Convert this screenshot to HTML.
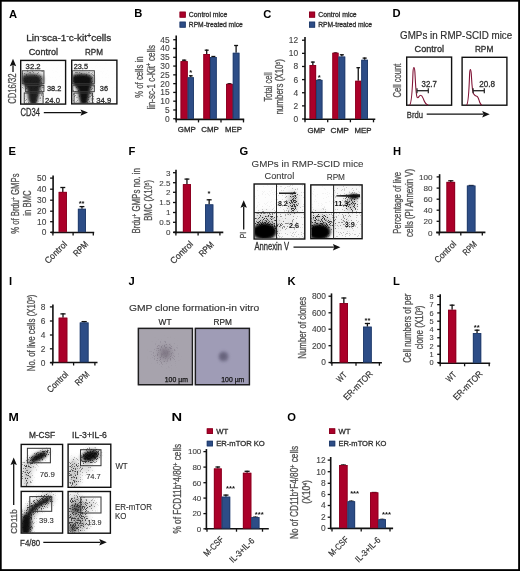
<!DOCTYPE html>
<html><head><meta charset="utf-8"><title>Figure</title>
<style>
html,body{margin:0;padding:0;background:#fff;}
svg{display:block;will-change:transform;}
text{font-family:"Liberation Sans", sans-serif;}
</style></head>
<body>
<svg xmlns="http://www.w3.org/2000/svg" width="520" height="571" viewBox="0 0 520 571">
<defs>
<filter id="b06" x="-50%" y="-50%" width="200%" height="200%"><feGaussianBlur stdDeviation="0.6"/></filter>
<filter id="b08" x="-50%" y="-50%" width="200%" height="200%"><feGaussianBlur stdDeviation="0.8"/></filter>
<filter id="b12" x="-50%" y="-50%" width="200%" height="200%"><feGaussianBlur stdDeviation="1.2"/></filter>
<filter id="b18" x="-50%" y="-50%" width="200%" height="200%"><feGaussianBlur stdDeviation="1.8"/></filter>
<filter id="b25" x="-50%" y="-50%" width="200%" height="200%"><feGaussianBlur stdDeviation="2.5"/></filter>
<filter id="b35" x="-50%" y="-50%" width="200%" height="200%"><feGaussianBlur stdDeviation="3.5"/></filter>
<filter id="b50" x="-50%" y="-50%" width="200%" height="200%"><feGaussianBlur stdDeviation="5"/></filter>
<filter id="speck" x="0" y="0" width="100%" height="100%" color-interpolation-filters="sRGB">
  <feTurbulence type="fractalNoise" baseFrequency="1.1" numOctaves="2" seed="3" result="N"/>
  <feComponentTransfer in="N" result="N2"><feFuncA type="linear" slope="3" intercept="-1"/></feComponentTransfer>
  <feComposite in="SourceAlpha" in2="N2" operator="arithmetic" k1="0" k2="3" k3="-3" k4="0" result="M"/>
  <feFlood flood-color="#333" result="F"/>
  <feComposite in="F" in2="M" operator="in" result="D"/>
  <feGaussianBlur in="D" stdDeviation="0.6" result="DB"/>
  <feComponentTransfer in="SourceAlpha" result="S"><feFuncA type="linear" slope="0.45"/></feComponentTransfer>
  <feFlood flood-color="#222" result="F2"/>
  <feComposite in="F2" in2="S" operator="in" result="SM"/>
  <feMerge><feMergeNode in="SM"/><feMergeNode in="DB"/></feMerge>
</filter>
<filter id="speckL" x="0" y="0" width="100%" height="100%" color-interpolation-filters="sRGB">
  <feTurbulence type="fractalNoise" baseFrequency="0.85" numOctaves="2" seed="5" result="N"/>
  <feComponentTransfer in="N" result="N2"><feFuncA type="linear" slope="3" intercept="-1"/></feComponentTransfer>
  <feComposite in="SourceAlpha" in2="N2" operator="arithmetic" k1="0" k2="3" k3="-3" k4="0" result="M"/>
  <feFlood flood-color="#555" result="F"/>
  <feComposite in="F" in2="M" operator="in" result="D"/>
  <feGaussianBlur in="D" stdDeviation="0.5"/>
</filter>
<filter id="speckA" x="0" y="0" width="100%" height="100%" color-interpolation-filters="sRGB">
  <feTurbulence type="fractalNoise" baseFrequency="1.2" numOctaves="2" seed="11" result="N"/>
  <feComponentTransfer in="N" result="N2"><feFuncA type="linear" slope="3" intercept="-1"/></feComponentTransfer>
  <feComposite in="SourceAlpha" in2="N2" operator="arithmetic" k1="0" k2="3" k3="-3" k4="0" result="M"/>
  <feFlood flood-color="#444" result="F"/>
  <feComposite in="F" in2="M" operator="in" result="D"/>
  <feGaussianBlur in="D" stdDeviation="0.7" result="DB"/>
  <feComponentTransfer in="SourceAlpha" result="S"><feFuncA type="linear" slope="0.6"/></feComponentTransfer>
  <feFlood flood-color="#222" result="F2"/>
  <feComposite in="F2" in2="S" operator="in" result="SM"/>
  <feMerge><feMergeNode in="SM"/><feMergeNode in="DB"/></feMerge>
</filter>
<filter id="speckJ" x="0" y="0" width="100%" height="100%" color-interpolation-filters="sRGB">
  <feTurbulence type="fractalNoise" baseFrequency="0.7" numOctaves="2" seed="9" result="N"/>
  <feComponentTransfer in="N" result="N2"><feFuncA type="linear" slope="3" intercept="-1"/></feComponentTransfer>
  <feComposite in="SourceAlpha" in2="N2" operator="arithmetic" k1="0" k2="3" k3="-3" k4="0" result="M"/>
  <feFlood flood-color="#8a8490" result="F"/>
  <feComposite in="F" in2="M" operator="in" result="D"/>
  <feGaussianBlur in="D" stdDeviation="0.6"/>
</filter>
<clipPath id="cA1"><rect x="21.4" y="61.1" width="43.5" height="42.3"/></clipPath>
<clipPath id="cA2"><rect x="72.4" y="60.9" width="43.8" height="42.3"/></clipPath>
<clipPath id="cG1"><rect x="254.8" y="184.7" width="49.3" height="53.6"/></clipPath>
<clipPath id="cG2"><rect x="311.5" y="185.6" width="49.9" height="52.4"/></clipPath>
<clipPath id="cM1"><rect x="21.9" y="445.1" width="40" height="40.8"/></clipPath>
<clipPath id="cM2"><rect x="21.9" y="492.1" width="40" height="40.3"/></clipPath>
<clipPath id="cM3"><rect x="68.8" y="444.9" width="41.3" height="41.7"/></clipPath>
<clipPath id="cM4"><rect x="68.8" y="492.2" width="40.9" height="40.3"/></clipPath>
<clipPath id="cJ1"><rect x="138.5" y="328.5" width="53.8" height="56.2"/></clipPath>
<clipPath id="cJ2"><rect x="195.5" y="328.5" width="54" height="56.2"/></clipPath>
</defs>
<rect x="0" y="0" width="520" height="571" fill="#fff"/>
<rect x="0.75" y="0.75" width="518.35" height="569.35" fill="none" stroke="#000" stroke-width="1.9"/>
<text x="9" y="17.5" font-size="11.2" font-weight="bold" fill="#000">A</text>
<text x="134.3" y="17.1" font-size="11.2" font-weight="bold" fill="#000">B</text>
<text x="263.3" y="17.5" font-size="11.2" font-weight="bold" fill="#000">C</text>
<text x="392.6" y="17.2" font-size="11.2" font-weight="bold" fill="#000">D</text>
<text x="8.6" y="155.4" font-size="11.2" font-weight="bold" fill="#000">E</text>
<text x="128.5" y="155.1" font-size="11.2" font-weight="bold" fill="#000">F</text>
<text x="239.6" y="155.2" font-size="11.2" font-weight="bold" fill="#000">G</text>
<text x="393.1" y="155.4" font-size="11.2" font-weight="bold" fill="#000">H</text>
<text x="9" y="285.1" font-size="11.2" font-weight="bold" fill="#000">I</text>
<text x="128.4" y="285.3" font-size="11.2" font-weight="bold" fill="#000">J</text>
<text x="287.4" y="285.3" font-size="11.2" font-weight="bold" fill="#000">K</text>
<text x="393" y="285.2" font-size="11.2" font-weight="bold" fill="#000">L</text>
<text x="8.5" y="420.9" font-size="11.2" font-weight="bold" textLength="10.3" lengthAdjust="spacingAndGlyphs" fill="#000">M</text>
<text x="171.4" y="420.7" font-size="11.2" font-weight="bold" textLength="10.6" lengthAdjust="spacingAndGlyphs" fill="#000">N</text>
<text x="287.2" y="421.1" font-size="11.2" font-weight="bold" fill="#000">O</text>
<text x="26.3" y="41.2" font-size="9.6" fill="#2e2e2e" stroke="#2e2e2e" stroke-width="0.3" textLength="85" lengthAdjust="spacingAndGlyphs">Lin<tspan font-size="6.5" dy="-3.6">-</tspan><tspan dy="3.6">sca-1</tspan><tspan font-size="6.5" dy="-3.6">-</tspan><tspan dy="3.6">c-kit</tspan><tspan font-size="7" dy="-3.4">+</tspan><tspan dy="3.4">cells</tspan></text>
<text x="28.8" y="55" font-size="8.9" textLength="29.3" lengthAdjust="spacingAndGlyphs" fill="#2e2e2e" stroke="#2e2e2e" stroke-width="0.3">Control</text>
<text x="85" y="55" font-size="8.9" textLength="18" lengthAdjust="spacingAndGlyphs" fill="#2e2e2e" stroke="#2e2e2e" stroke-width="0.3">RPM</text>
<rect x="20.7" y="60.4" width="44.9" height="43.7" fill="none" stroke="#111" stroke-width="1.4"/>
<rect x="71.7" y="60.2" width="45.2" height="43.7" fill="none" stroke="#111" stroke-width="1.4"/>
<g clip-path="url(#cA1)"><g filter="url(#speckA)">
<rect x="21.0" y="60.5" width="45.0" height="44.0" fill="#000" opacity="0.004"/>
<rect x="22" y="70.5" width="22" height="33.5" fill="#000" opacity="0.16"/>
</g></g>
<g clip-path="url(#cA1)"><g>
<rect x="21.0" y="60.5" width="45.0" height="44.0" fill="#000" opacity="0.004"/>
<path d="M22.5 74 C27 72 38 72 43 76 C45 79 43 86 40.5 92 C38.5 98 38 103 33 104.5 C29 104.5 27.5 99 27 94 C26.5 88 23 84 22 79 Z" fill="#000" opacity="0.5" filter="url(#b18)"/>
</g></g>
<g clip-path="url(#cA1)">
<path d="M22.5 77 C27 75 35 74.5 39.5 76.5 C41.5 79 41 83 39.5 88 C38.5 93 37.5 97 37 101 C36.5 104 35 105 33 105 C31 105 30 103 29.5 100 C29 95 28.5 91 27.5 88.5 C26 86 23.5 84.5 22.5 82 Z" fill="#151515" opacity="0.9" filter="url(#b08)"/>
</g>
<g clip-path="url(#cA2)"><g filter="url(#speckA)">
<rect x="72.0" y="60.5" width="45.0" height="44.0" fill="#000" opacity="0.004"/>
<rect x="72.5" y="70.5" width="22" height="33.5" fill="#000" opacity="0.17"/>
</g></g>
<g clip-path="url(#cA2)"><g>
<rect x="72.0" y="60.5" width="45.0" height="44.0" fill="#000" opacity="0.004"/>
<path d="M72.5 74 C78 72 89 72 93 76 C95 80 93 86 91 92 C89.5 98 89 103.5 84 104.5 C79.5 104.5 78.5 99 78 94 C77.5 88 73 84 72.5 79 Z" fill="#000" opacity="0.55" filter="url(#b18)"/>
</g></g>
<g clip-path="url(#cA2)">
<path d="M72.5 76.5 C78 74 87 74 91 77 C92.5 80 91 84 89.5 89 C88.5 94 87.5 99 87 102.5 C86.5 104.5 85 105 83.5 105 C82 105 81 104 80.5 101 C80 97 79.5 93 78.5 89.5 C77 86.5 74 85 72.5 82 Z" fill="#0d0d0d" opacity="0.95" filter="url(#b08)"/>
</g>
<rect x="22.25" y="70.75" width="21.70" height="13.00" fill="none" stroke="#3a3a3a" stroke-width="0.9"/>
<rect x="25.65" y="85.45" width="18.30" height="6.20" fill="none" stroke="#3a3a3a" stroke-width="0.9"/>
<rect x="24.25" y="93.05" width="18.80" height="10.70" fill="none" stroke="#3a3a3a" stroke-width="0.9"/>
<rect x="72.35" y="70.75" width="22.00" height="13.00" fill="none" stroke="#3a3a3a" stroke-width="0.9"/>
<rect x="72.85" y="85.15" width="21.50" height="6.50" fill="none" stroke="#3a3a3a" stroke-width="0.9"/>
<rect x="74.05" y="93.05" width="18.50" height="10.10" fill="none" stroke="#3a3a3a" stroke-width="0.9"/>
<text x="25.6" y="69.4" font-size="7.4" textLength="15" lengthAdjust="spacingAndGlyphs" fill="#2e2e2e" stroke="#2e2e2e" stroke-width="0.3">32.2</text>
<text x="46.9" y="90.6" font-size="7.4" textLength="14.4" lengthAdjust="spacingAndGlyphs" fill="#2e2e2e" stroke="#2e2e2e" stroke-width="0.3">38.2</text>
<text x="45" y="102.7" font-size="7.4" textLength="15" lengthAdjust="spacingAndGlyphs" fill="#2e2e2e" stroke="#2e2e2e" stroke-width="0.3">24.0</text>
<text x="73.7" y="69.4" font-size="7.4" textLength="14.3" lengthAdjust="spacingAndGlyphs" fill="#2e2e2e" stroke="#2e2e2e" stroke-width="0.3">23.5</text>
<text x="99.8" y="91" font-size="7.4" textLength="8.2" lengthAdjust="spacingAndGlyphs" fill="#2e2e2e" stroke="#2e2e2e" stroke-width="0.3">36</text>
<text x="96.3" y="102.5" font-size="7.4" textLength="15" lengthAdjust="spacingAndGlyphs" fill="#2e2e2e" stroke="#2e2e2e" stroke-width="0.3">34.9</text>
<text transform="translate(16.1 88.6) rotate(-90)" font-size="11.02" text-anchor="middle" textLength="30.4" lengthAdjust="spacingAndGlyphs" fill="#505050" stroke="#505050" stroke-width="0.3">CD16/32</text>
<line x1="13" y1="72" x2="13" y2="65.3" stroke="#111" stroke-width="1.3"/>
<path d="M13 58.8 L9.8 66.3 L13 65 L16.2 66.3 Z" fill="#111"/>
<text x="20.6" y="116.4" font-size="10.2" textLength="19.4" lengthAdjust="spacingAndGlyphs" fill="#2e2e2e" stroke="#2e2e2e" stroke-width="0.3">CD34</text>
<line x1="43.8" y1="112.6" x2="81.5" y2="112.6" stroke="#111" stroke-width="1.3"/>
<path d="M88 112.6 L80.5 109.4 L81.8 112.6 L80.5 115.8 Z" fill="#111"/>
<rect x="179.6" y="11.7" width="6.1" height="5.9" fill="#ab0029"/>
<rect x="180" y="12.1" width="5.3" height="5.1" fill="none" stroke="#86001f" stroke-width="0.8"/>
<rect x="179.6" y="21.7" width="6.1" height="5.9" fill="#2d4d87"/>
<rect x="180" y="22.1" width="5.3" height="5.1" fill="none" stroke="#213b68" stroke-width="0.8"/>
<text x="188.8" y="17.1" font-size="7" textLength="38.5" lengthAdjust="spacingAndGlyphs" fill="#2e2e2e" stroke="#2e2e2e" stroke-width="0.3">Control mice</text>
<text x="188.8" y="27.1" font-size="7" textLength="53.9" lengthAdjust="spacingAndGlyphs" fill="#2e2e2e" stroke="#2e2e2e" stroke-width="0.3">RPM-treated mice</text>
<line x1="176.2" y1="35.6" x2="176.2" y2="120.2" stroke="#111" stroke-width="1.6"/>
<line x1="173.2" y1="118.75" x2="176.2" y2="118.75" stroke="#111" stroke-width="1.3"/>
<text x="169.6" y="121.69" font-size="8.4" text-anchor="end" fill="#444" stroke="#444" stroke-width="0.12">0</text>
<line x1="173.2" y1="109.97" x2="176.2" y2="109.97" stroke="#111" stroke-width="1.3"/>
<text x="169.6" y="112.91" font-size="8.4" text-anchor="end" fill="#444" stroke="#444" stroke-width="0.12">5</text>
<line x1="173.2" y1="101.19" x2="176.2" y2="101.19" stroke="#111" stroke-width="1.3"/>
<text x="169.6" y="104.13" font-size="8.4" text-anchor="end" fill="#444" stroke="#444" stroke-width="0.12">10</text>
<line x1="173.2" y1="92.41" x2="176.2" y2="92.41" stroke="#111" stroke-width="1.3"/>
<text x="169.6" y="95.35" font-size="8.4" text-anchor="end" fill="#444" stroke="#444" stroke-width="0.12">15</text>
<line x1="173.2" y1="83.63" x2="176.2" y2="83.63" stroke="#111" stroke-width="1.3"/>
<text x="169.6" y="86.57" font-size="8.4" text-anchor="end" fill="#444" stroke="#444" stroke-width="0.12">20</text>
<line x1="173.2" y1="74.85" x2="176.2" y2="74.85" stroke="#111" stroke-width="1.3"/>
<text x="169.6" y="77.79" font-size="8.4" text-anchor="end" fill="#444" stroke="#444" stroke-width="0.12">25</text>
<line x1="173.2" y1="66.07" x2="176.2" y2="66.07" stroke="#111" stroke-width="1.3"/>
<text x="169.6" y="69.01" font-size="8.4" text-anchor="end" fill="#444" stroke="#444" stroke-width="0.12">30</text>
<line x1="173.2" y1="57.29" x2="176.2" y2="57.29" stroke="#111" stroke-width="1.3"/>
<text x="169.6" y="60.23" font-size="8.4" text-anchor="end" fill="#444" stroke="#444" stroke-width="0.12">35</text>
<line x1="173.2" y1="48.51" x2="176.2" y2="48.51" stroke="#111" stroke-width="1.3"/>
<text x="169.6" y="51.45" font-size="8.4" text-anchor="end" fill="#444" stroke="#444" stroke-width="0.12">40</text>
<line x1="173.2" y1="39.73" x2="176.2" y2="39.73" stroke="#111" stroke-width="1.3"/>
<text x="169.6" y="42.67" font-size="8.4" text-anchor="end" fill="#444" stroke="#444" stroke-width="0.12">45</text>
<line x1="175.4" y1="119.4" x2="244.2" y2="119.4" stroke="#111" stroke-width="1.6"/>
<line x1="176.2" y1="119.4" x2="176.2" y2="122.4" stroke="#111" stroke-width="1.3"/>
<line x1="198.5" y1="119.4" x2="198.5" y2="122.4" stroke="#111" stroke-width="1.3"/>
<line x1="221" y1="119.4" x2="221" y2="122.4" stroke="#111" stroke-width="1.3"/>
<line x1="243.5" y1="119.4" x2="243.5" y2="122.4" stroke="#111" stroke-width="1.3"/>
<line x1="184.15" y1="61.2" x2="184.15" y2="59.6" stroke="#111" stroke-width="1.3"/>
<line x1="182.02" y1="60.2" x2="186.28" y2="60.2" stroke="#111" stroke-width="1.3"/>
<rect x="180.6" y="61.2" width="7.1" height="57.4" fill="#ab0029"/>
<rect x="181" y="61.6" width="6.3" height="57" fill="none" stroke="#86001f" stroke-width="0.8"/>
<line x1="190.8" y1="77.3" x2="190.8" y2="75.2" stroke="#111" stroke-width="1.3"/>
<line x1="188.94" y1="75.8" x2="192.66" y2="75.8" stroke="#111" stroke-width="1.3"/>
<rect x="187.7" y="77.3" width="6.2" height="41.3" fill="#2d4d87"/>
<rect x="188.1" y="77.7" width="5.4" height="40.9" fill="none" stroke="#213b68" stroke-width="0.8"/>
<line x1="206.7" y1="54" x2="206.7" y2="49.6" stroke="#111" stroke-width="1.3"/>
<line x1="204.72" y1="50.2" x2="208.68" y2="50.2" stroke="#111" stroke-width="1.3"/>
<rect x="203.4" y="54" width="6.6" height="64.6" fill="#ab0029"/>
<rect x="203.8" y="54.4" width="5.8" height="64.2" fill="none" stroke="#86001f" stroke-width="0.8"/>
<line x1="213.35" y1="57.1" x2="213.35" y2="55.9" stroke="#111" stroke-width="1.3"/>
<line x1="211.34" y1="56.5" x2="215.36" y2="56.5" stroke="#111" stroke-width="1.3"/>
<rect x="210" y="57.1" width="6.7" height="61.5" fill="#2d4d87"/>
<rect x="210.4" y="57.5" width="5.9" height="61.1" fill="none" stroke="#213b68" stroke-width="0.8"/>
<line x1="229.45" y1="83.9" x2="229.45" y2="83.2" stroke="#111" stroke-width="1.3"/>
<line x1="227.44" y1="83.8" x2="231.46" y2="83.8" stroke="#111" stroke-width="1.3"/>
<rect x="226.1" y="83.9" width="6.7" height="34.7" fill="#ab0029"/>
<rect x="226.5" y="84.3" width="5.9" height="34.3" fill="none" stroke="#86001f" stroke-width="0.8"/>
<line x1="236.1" y1="52.8" x2="236.1" y2="44.9" stroke="#111" stroke-width="1.3"/>
<line x1="234.12" y1="45.5" x2="238.08" y2="45.5" stroke="#111" stroke-width="1.3"/>
<rect x="232.8" y="52.8" width="6.6" height="65.8" fill="#2d4d87"/>
<rect x="233.2" y="53.2" width="5.8" height="65.4" fill="none" stroke="#213b68" stroke-width="0.8"/>
<text x="190.8" y="75.48" font-size="7.6" font-weight="bold" text-anchor="middle" fill="#111">*</text>
<text x="177.8" y="132.3" font-size="7.4" textLength="18" lengthAdjust="spacingAndGlyphs" fill="#2e2e2e" stroke="#2e2e2e" stroke-width="0.3">GMP</text>
<text x="201.2" y="132.3" font-size="7.4" textLength="17.6" lengthAdjust="spacingAndGlyphs" fill="#2e2e2e" stroke="#2e2e2e" stroke-width="0.3">CMP</text>
<text x="225" y="132.3" font-size="7.4" textLength="16.9" lengthAdjust="spacingAndGlyphs" fill="#2e2e2e" stroke="#2e2e2e" stroke-width="0.3">MEP</text>
<text transform="translate(142.5 77.1) rotate(-90)" font-size="10.37" text-anchor="middle" textLength="41.2" lengthAdjust="spacingAndGlyphs" fill="#505050" stroke="#505050" stroke-width="0.3">% of cells in</text>
<text transform="translate(154.7 77.3) rotate(-90)" font-size="10.37" text-anchor="middle" textLength="64.6" lengthAdjust="spacingAndGlyphs" fill="#505050" stroke="#505050" stroke-width="0.3">lin-sc-1 c-Kit<tspan font-size="6.5" dy="-3.3">+</tspan><tspan dy="3.3"> cells</tspan></text>
<rect x="309" y="11.7" width="6.1" height="5.9" fill="#ab0029"/>
<rect x="309.4" y="12.1" width="5.3" height="5.1" fill="none" stroke="#86001f" stroke-width="0.8"/>
<rect x="309" y="21.7" width="6.1" height="5.9" fill="#2d4d87"/>
<rect x="309.4" y="22.1" width="5.3" height="5.1" fill="none" stroke="#213b68" stroke-width="0.8"/>
<text x="318.2" y="17.1" font-size="7" textLength="38.5" lengthAdjust="spacingAndGlyphs" fill="#2e2e2e" stroke="#2e2e2e" stroke-width="0.3">Control mice</text>
<text x="318.2" y="27.1" font-size="7" textLength="53.9" lengthAdjust="spacingAndGlyphs" fill="#2e2e2e" stroke="#2e2e2e" stroke-width="0.3">RPM-treated mice</text>
<line x1="305" y1="37" x2="305" y2="120.2" stroke="#111" stroke-width="1.6"/>
<line x1="302" y1="119" x2="305" y2="119" stroke="#111" stroke-width="1.3"/>
<text x="298.2" y="121.94" font-size="8.4" text-anchor="end" fill="#444" stroke="#444" stroke-width="0.12">0</text>
<line x1="302" y1="105.87" x2="305" y2="105.87" stroke="#111" stroke-width="1.3"/>
<text x="298.2" y="108.81" font-size="8.4" text-anchor="end" fill="#444" stroke="#444" stroke-width="0.12">2</text>
<line x1="302" y1="92.74" x2="305" y2="92.74" stroke="#111" stroke-width="1.3"/>
<text x="298.2" y="95.68" font-size="8.4" text-anchor="end" fill="#444" stroke="#444" stroke-width="0.12">4</text>
<line x1="302" y1="79.61" x2="305" y2="79.61" stroke="#111" stroke-width="1.3"/>
<text x="298.2" y="82.55" font-size="8.4" text-anchor="end" fill="#444" stroke="#444" stroke-width="0.12">6</text>
<line x1="302" y1="66.48" x2="305" y2="66.48" stroke="#111" stroke-width="1.3"/>
<text x="298.2" y="69.42" font-size="8.4" text-anchor="end" fill="#444" stroke="#444" stroke-width="0.12">8</text>
<line x1="302" y1="53.35" x2="305" y2="53.35" stroke="#111" stroke-width="1.3"/>
<text x="298.2" y="56.29" font-size="8.4" text-anchor="end" fill="#444" stroke="#444" stroke-width="0.12">10</text>
<line x1="302" y1="40.22" x2="305" y2="40.22" stroke="#111" stroke-width="1.3"/>
<text x="298.2" y="43.16" font-size="8.4" text-anchor="end" fill="#444" stroke="#444" stroke-width="0.12">12</text>
<line x1="304" y1="119.3" x2="375.3" y2="119.3" stroke="#111" stroke-width="1.6"/>
<line x1="305" y1="119.3" x2="305" y2="122.3" stroke="#111" stroke-width="1.3"/>
<line x1="327.7" y1="119.3" x2="327.7" y2="122.3" stroke="#111" stroke-width="1.3"/>
<line x1="350.4" y1="119.3" x2="350.4" y2="122.3" stroke="#111" stroke-width="1.3"/>
<line x1="373.5" y1="119.3" x2="373.5" y2="122.3" stroke="#111" stroke-width="1.3"/>
<line x1="312.85" y1="65" x2="312.85" y2="61.5" stroke="#111" stroke-width="1.3"/>
<line x1="310.9" y1="62.1" x2="314.8" y2="62.1" stroke="#111" stroke-width="1.3"/>
<rect x="309.6" y="65" width="6.5" height="53.6" fill="#ab0029"/>
<rect x="310" y="65.4" width="5.7" height="53.2" fill="none" stroke="#86001f" stroke-width="0.8"/>
<line x1="319.25" y1="79.9" x2="319.25" y2="79.4" stroke="#111" stroke-width="1.3"/>
<line x1="317.36" y1="80" x2="321.14" y2="80" stroke="#111" stroke-width="1.3"/>
<rect x="316.1" y="79.9" width="6.3" height="38.7" fill="#2d4d87"/>
<rect x="316.5" y="80.3" width="5.5" height="38.3" fill="none" stroke="#213b68" stroke-width="0.8"/>
<line x1="335.45" y1="52.8" x2="335.45" y2="52.4" stroke="#111" stroke-width="1.3"/>
<line x1="333.62" y1="53" x2="337.28" y2="53" stroke="#111" stroke-width="1.3"/>
<rect x="332.4" y="52.8" width="6.1" height="65.8" fill="#ab0029"/>
<rect x="332.8" y="53.2" width="5.3" height="65.4" fill="none" stroke="#86001f" stroke-width="0.8"/>
<line x1="341.85" y1="56.6" x2="341.85" y2="54.2" stroke="#111" stroke-width="1.3"/>
<line x1="339.84" y1="54.8" x2="343.86" y2="54.8" stroke="#111" stroke-width="1.3"/>
<rect x="338.5" y="56.6" width="6.7" height="62" fill="#2d4d87"/>
<rect x="338.9" y="57" width="5.9" height="61.6" fill="none" stroke="#213b68" stroke-width="0.8"/>
<line x1="358.25" y1="80.8" x2="358.25" y2="67.1" stroke="#111" stroke-width="1.3"/>
<line x1="356.42" y1="67.7" x2="360.08" y2="67.7" stroke="#111" stroke-width="1.3"/>
<rect x="355.2" y="80.8" width="6.1" height="37.8" fill="#ab0029"/>
<rect x="355.6" y="81.2" width="5.3" height="37.4" fill="none" stroke="#86001f" stroke-width="0.8"/>
<line x1="364.65" y1="59.8" x2="364.65" y2="57.5" stroke="#111" stroke-width="1.3"/>
<line x1="362.64" y1="58.1" x2="366.66" y2="58.1" stroke="#111" stroke-width="1.3"/>
<rect x="361.3" y="59.8" width="6.7" height="58.8" fill="#2d4d87"/>
<rect x="361.7" y="60.2" width="5.9" height="58.4" fill="none" stroke="#213b68" stroke-width="0.8"/>
<text x="319.3" y="79.78" font-size="7.6" font-weight="bold" text-anchor="middle" fill="#111">*</text>
<text x="307.4" y="133.1" font-size="7.4" textLength="18" lengthAdjust="spacingAndGlyphs" fill="#2e2e2e" stroke="#2e2e2e" stroke-width="0.3">GMP</text>
<text x="330.5" y="133.1" font-size="7.4" textLength="18.4" lengthAdjust="spacingAndGlyphs" fill="#2e2e2e" stroke="#2e2e2e" stroke-width="0.3">CMP</text>
<text x="354.6" y="133.1" font-size="7.4" textLength="16.9" lengthAdjust="spacingAndGlyphs" fill="#2e2e2e" stroke="#2e2e2e" stroke-width="0.3">MEP</text>
<text transform="translate(271.8 86.9) rotate(-90)" font-size="10.37" text-anchor="middle" textLength="29.2" lengthAdjust="spacingAndGlyphs" fill="#505050" stroke="#505050" stroke-width="0.3">Total cell</text>
<text transform="translate(283 86.9) rotate(-90)" font-size="10.37" text-anchor="middle" textLength="55.4" lengthAdjust="spacingAndGlyphs" fill="#505050" stroke="#505050" stroke-width="0.3">numbers (X10<tspan font-size="6" dy="-3.3">5</tspan><tspan dy="3.3">)</tspan></text>
<text x="400.1" y="38.5" font-size="10.4" textLength="112.1" lengthAdjust="spacingAndGlyphs" fill="#2e2e2e" stroke="#2e2e2e" stroke-width="0.18">GMPs in RMP-SCID mice</text>
<text x="414.6" y="52.1" font-size="8.9" textLength="29.4" lengthAdjust="spacingAndGlyphs" fill="#2e2e2e" stroke="#2e2e2e" stroke-width="0.3">Control</text>
<text x="474.9" y="51.9" font-size="8.9" textLength="18.4" lengthAdjust="spacingAndGlyphs" fill="#2e2e2e" stroke="#2e2e2e" stroke-width="0.3">RPM</text>
<rect x="406.7" y="57.1" width="44.9" height="48.1" fill="none" stroke="#111" stroke-width="1.4"/>
<rect x="462.1" y="57.3" width="44.8" height="47.9" fill="none" stroke="#111" stroke-width="1.4"/>
<path d="M409.6 105 C411.5 104 412.4 90 413.0 72 C413.4 66 414.4 66 414.9 72 C415.6 84 415.9 96 417.2 97.5 C418.4 98.8 419.2 95 420.6 95.2 C422.3 95.4 422.6 97 423.8 100 C425 103.2 426.2 104.6 428.2 105" fill="none" stroke="#801436" stroke-width="1.1"/>
<path d="M466.6 105 C468.3 104 469.0 92 469.6 74 C469.9 68 470.8 68 471.3 74 C471.9 84 472.2 92 473.5 93.8 C474.6 95.5 475.6 96.2 476.7 96.3 C478.3 96.5 478.6 99 479.6 102 C480.4 104.3 480.8 104.7 481.8 105" fill="none" stroke="#801436" stroke-width="1.1"/>
<line x1="417" y1="90.7" x2="428.3" y2="90.7" stroke="#222" stroke-width="1.3"/>
<line x1="417" y1="88.2" x2="417" y2="93.2" stroke="#222" stroke-width="1.2"/>
<line x1="428.3" y1="88.2" x2="428.3" y2="93.2" stroke="#222" stroke-width="1.2"/>
<line x1="473.1" y1="90.7" x2="484.3" y2="90.7" stroke="#222" stroke-width="1.3"/>
<line x1="473.1" y1="88.2" x2="473.1" y2="93.2" stroke="#222" stroke-width="1.2"/>
<line x1="484.3" y1="88.2" x2="484.3" y2="93.2" stroke="#222" stroke-width="1.2"/>
<text x="421.6" y="87" font-size="8.2" textLength="15.2" lengthAdjust="spacingAndGlyphs" fill="#2e2e2e" stroke="#2e2e2e" stroke-width="0.3">32.7</text>
<text x="479.3" y="87.3" font-size="8.2" textLength="15.8" lengthAdjust="spacingAndGlyphs" fill="#2e2e2e" stroke="#2e2e2e" stroke-width="0.3">20.8</text>
<text transform="translate(401.2 80.55) rotate(-90)" font-size="10.58" text-anchor="middle" textLength="34.1" lengthAdjust="spacingAndGlyphs" fill="#505050" stroke="#505050" stroke-width="0.3">Cell count</text>
<text x="406.8" y="117.6" font-size="9.4" textLength="16.2" lengthAdjust="spacingAndGlyphs" fill="#2e2e2e" stroke="#2e2e2e" stroke-width="0.3">Brdu</text>
<line x1="426.7" y1="114.2" x2="483.2" y2="114.2" stroke="#111" stroke-width="1.3"/>
<path d="M489.7 114.2 L482.2 111 L483.5 114.2 L482.2 117.4 Z" fill="#111"/>
<line x1="53.1" y1="175.4" x2="53.1" y2="233.3" stroke="#111" stroke-width="1.6"/>
<line x1="50.1" y1="232.3" x2="53.1" y2="232.3" stroke="#111" stroke-width="1.3"/>
<text x="46.4" y="235.24" font-size="8.4" text-anchor="end" fill="#444" stroke="#444" stroke-width="0.12">0</text>
<line x1="50.1" y1="221.7" x2="53.1" y2="221.7" stroke="#111" stroke-width="1.3"/>
<text x="46.4" y="224.64" font-size="8.4" text-anchor="end" fill="#444" stroke="#444" stroke-width="0.12">10</text>
<line x1="50.1" y1="211.2" x2="53.1" y2="211.2" stroke="#111" stroke-width="1.3"/>
<text x="46.4" y="214.14" font-size="8.4" text-anchor="end" fill="#444" stroke="#444" stroke-width="0.12">20</text>
<line x1="50.1" y1="200.2" x2="53.1" y2="200.2" stroke="#111" stroke-width="1.3"/>
<text x="46.4" y="203.14" font-size="8.4" text-anchor="end" fill="#444" stroke="#444" stroke-width="0.12">30</text>
<line x1="50.1" y1="189.2" x2="53.1" y2="189.2" stroke="#111" stroke-width="1.3"/>
<text x="46.4" y="192.14" font-size="8.4" text-anchor="end" fill="#444" stroke="#444" stroke-width="0.12">40</text>
<line x1="50.1" y1="178.1" x2="53.1" y2="178.1" stroke="#111" stroke-width="1.3"/>
<text x="46.4" y="181.04" font-size="8.4" text-anchor="end" fill="#444" stroke="#444" stroke-width="0.12">50</text>
<line x1="51" y1="232.5" x2="94.2" y2="232.5" stroke="#111" stroke-width="1.6"/>
<line x1="52.9" y1="232.5" x2="52.9" y2="235.5" stroke="#111" stroke-width="1.3"/>
<line x1="73.1" y1="232.5" x2="73.1" y2="235.5" stroke="#111" stroke-width="1.3"/>
<line x1="93.3" y1="232.5" x2="93.3" y2="235.5" stroke="#111" stroke-width="1.3"/>
<line x1="62.8" y1="191.9" x2="62.8" y2="186.9" stroke="#111" stroke-width="1.3"/>
<line x1="60.34" y1="187.5" x2="65.26" y2="187.5" stroke="#111" stroke-width="1.3"/>
<rect x="58.7" y="191.9" width="8.2" height="39.9" fill="#ab0029"/>
<rect x="59.1" y="192.3" width="7.4" height="39.5" fill="none" stroke="#86001f" stroke-width="0.8"/>
<line x1="81.95" y1="208.8" x2="81.95" y2="206" stroke="#111" stroke-width="1.3"/>
<line x1="79.52" y1="206.6" x2="84.38" y2="206.6" stroke="#111" stroke-width="1.3"/>
<rect x="77.9" y="208.8" width="8.1" height="23" fill="#2d4d87"/>
<rect x="78.3" y="209.2" width="7.3" height="22.6" fill="none" stroke="#213b68" stroke-width="0.8"/>
<text x="81.6" y="205.58" font-size="7.6" font-weight="bold" text-anchor="middle" fill="#111">**</text>
<text transform="translate(67.7 244.8) rotate(-45)" font-size="9" text-anchor="end" textLength="27.5" lengthAdjust="spacingAndGlyphs" fill="#2e2e2e" stroke="#2e2e2e" stroke-width="0.18">Control</text>
<text transform="translate(88.8 244.8) rotate(-45)" font-size="9" text-anchor="end" textLength="17.1" lengthAdjust="spacingAndGlyphs" fill="#2e2e2e" stroke="#2e2e2e" stroke-width="0.18">RPM</text>
<text transform="translate(19.1 203.65) rotate(-90)" font-size="10.15" text-anchor="middle" textLength="60.3" lengthAdjust="spacingAndGlyphs" fill="#505050" stroke="#505050" stroke-width="0.3">% of Brdu<tspan font-size="6.5" dy="-3.3">+</tspan><tspan dy="3.3"> GMPs</tspan></text>
<text transform="translate(31.4 203.1) rotate(-90)" font-size="10.15" text-anchor="middle" textLength="25.4" lengthAdjust="spacingAndGlyphs" fill="#505050" stroke="#505050" stroke-width="0.3">in BMC</text>
<line x1="176" y1="169.8" x2="176" y2="233.2" stroke="#111" stroke-width="1.6"/>
<line x1="173" y1="232.3" x2="176" y2="232.3" stroke="#111" stroke-width="1.3"/>
<text x="170.4" y="235.1" font-size="8" text-anchor="end" fill="#444" stroke="#444" stroke-width="0.12">0</text>
<line x1="173" y1="222.3" x2="176" y2="222.3" stroke="#111" stroke-width="1.3"/>
<text x="170.4" y="225.1" font-size="8" text-anchor="end" fill="#444" stroke="#444" stroke-width="0.12">0.5</text>
<line x1="173" y1="212.5" x2="176" y2="212.5" stroke="#111" stroke-width="1.3"/>
<text x="170.4" y="215.3" font-size="8" text-anchor="end" fill="#444" stroke="#444" stroke-width="0.12">1</text>
<line x1="173" y1="202.5" x2="176" y2="202.5" stroke="#111" stroke-width="1.3"/>
<text x="170.4" y="205.3" font-size="8" text-anchor="end" fill="#444" stroke="#444" stroke-width="0.12">1.5</text>
<line x1="173" y1="192.3" x2="176" y2="192.3" stroke="#111" stroke-width="1.3"/>
<text x="170.4" y="195.1" font-size="8" text-anchor="end" fill="#444" stroke="#444" stroke-width="0.12">2</text>
<line x1="173" y1="182.7" x2="176" y2="182.7" stroke="#111" stroke-width="1.3"/>
<text x="170.4" y="185.5" font-size="8" text-anchor="end" fill="#444" stroke="#444" stroke-width="0.12">2.5</text>
<line x1="173" y1="172.7" x2="176" y2="172.7" stroke="#111" stroke-width="1.3"/>
<text x="170.4" y="175.5" font-size="8" text-anchor="end" fill="#444" stroke="#444" stroke-width="0.12">3</text>
<line x1="173.5" y1="232.4" x2="223.3" y2="232.4" stroke="#111" stroke-width="1.6"/>
<line x1="175.9" y1="232.4" x2="175.9" y2="235.4" stroke="#111" stroke-width="1.3"/>
<line x1="198.1" y1="232.4" x2="198.1" y2="235.4" stroke="#111" stroke-width="1.3"/>
<line x1="219.9" y1="232.4" x2="219.9" y2="235.4" stroke="#111" stroke-width="1.3"/>
<line x1="186.95" y1="184.2" x2="186.95" y2="178.5" stroke="#111" stroke-width="1.3"/>
<line x1="184.52" y1="179.1" x2="189.38" y2="179.1" stroke="#111" stroke-width="1.3"/>
<rect x="182.9" y="184.2" width="8.1" height="47.6" fill="#ab0029"/>
<rect x="183.3" y="184.6" width="7.3" height="47.2" fill="none" stroke="#86001f" stroke-width="0.8"/>
<line x1="209.15" y1="204.4" x2="209.15" y2="199.2" stroke="#111" stroke-width="1.3"/>
<line x1="206.66" y1="199.8" x2="211.64" y2="199.8" stroke="#111" stroke-width="1.3"/>
<rect x="205" y="204.4" width="8.3" height="27.4" fill="#2d4d87"/>
<rect x="205.4" y="204.8" width="7.5" height="27" fill="none" stroke="#213b68" stroke-width="0.8"/>
<text x="209" y="196.18" font-size="7.6" font-weight="bold" text-anchor="middle" fill="#111">*</text>
<text transform="translate(193.7 244.6) rotate(-45)" font-size="9" text-anchor="end" textLength="28.1" lengthAdjust="spacingAndGlyphs" fill="#2e2e2e" stroke="#2e2e2e" stroke-width="0.18">Control</text>
<text transform="translate(214.5 245.2) rotate(-45)" font-size="9" text-anchor="end" textLength="17.1" lengthAdjust="spacingAndGlyphs" fill="#2e2e2e" stroke="#2e2e2e" stroke-width="0.18">RPM</text>
<text transform="translate(139.8 200.8) rotate(-90)" font-size="10.15" text-anchor="middle" textLength="65.4" lengthAdjust="spacingAndGlyphs" fill="#505050" stroke="#505050" stroke-width="0.3">Brdu<tspan font-size="6.5" dy="-3.3">+</tspan><tspan dy="3.3"> GMPs no. in</tspan></text>
<text transform="translate(152 200.4) rotate(-90)" font-size="10.15" text-anchor="middle" textLength="40.8" lengthAdjust="spacingAndGlyphs" fill="#505050" stroke="#505050" stroke-width="0.3">BMC (X10<tspan font-size="6" dy="-3.3">5</tspan><tspan dy="3.3">)</tspan></text>
<line x1="439.6" y1="174.2" x2="439.6" y2="233.2" stroke="#111" stroke-width="1.6"/>
<line x1="436.6" y1="232.7" x2="439.6" y2="232.7" stroke="#111" stroke-width="1.3"/>
<text x="432.4" y="235.53" font-size="8.1" text-anchor="end" fill="#444" stroke="#444" stroke-width="0.12">0</text>
<line x1="436.6" y1="221.3" x2="439.6" y2="221.3" stroke="#111" stroke-width="1.3"/>
<text x="432.4" y="224.14" font-size="8.1" text-anchor="end" fill="#444" stroke="#444" stroke-width="0.12">20</text>
<line x1="436.6" y1="210.2" x2="439.6" y2="210.2" stroke="#111" stroke-width="1.3"/>
<text x="432.4" y="213.03" font-size="8.1" text-anchor="end" fill="#444" stroke="#444" stroke-width="0.12">40</text>
<line x1="436.6" y1="199.2" x2="439.6" y2="199.2" stroke="#111" stroke-width="1.3"/>
<text x="432.4" y="202.03" font-size="8.1" text-anchor="end" fill="#444" stroke="#444" stroke-width="0.12">60</text>
<line x1="436.6" y1="188.1" x2="439.6" y2="188.1" stroke="#111" stroke-width="1.3"/>
<text x="432.4" y="190.94" font-size="8.1" text-anchor="end" fill="#444" stroke="#444" stroke-width="0.12">80</text>
<line x1="436.6" y1="176.9" x2="439.6" y2="176.9" stroke="#111" stroke-width="1.3"/>
<text x="432.4" y="179.74" font-size="8.1" text-anchor="end" fill="#444" stroke="#444" stroke-width="0.12">100</text>
<line x1="436.2" y1="232.4" x2="485.4" y2="232.4" stroke="#111" stroke-width="1.6"/>
<line x1="439.2" y1="232.4" x2="439.2" y2="235.4" stroke="#111" stroke-width="1.3"/>
<line x1="460.8" y1="232.4" x2="460.8" y2="235.4" stroke="#111" stroke-width="1.3"/>
<line x1="482.3" y1="232.4" x2="482.3" y2="235.4" stroke="#111" stroke-width="1.3"/>
<line x1="450.8" y1="181.9" x2="450.8" y2="180.2" stroke="#111" stroke-width="1.3"/>
<line x1="448.22" y1="180.8" x2="453.38" y2="180.8" stroke="#111" stroke-width="1.3"/>
<rect x="446.5" y="181.9" width="8.6" height="49.9" fill="#ab0029"/>
<rect x="446.9" y="182.3" width="7.8" height="49.5" fill="none" stroke="#86001f" stroke-width="0.8"/>
<line x1="471.15" y1="185.6" x2="471.15" y2="184.9" stroke="#111" stroke-width="1.3"/>
<line x1="468.6" y1="185.5" x2="473.7" y2="185.5" stroke="#111" stroke-width="1.3"/>
<rect x="466.9" y="185.6" width="8.5" height="46.2" fill="#2d4d87"/>
<rect x="467.3" y="186" width="7.7" height="45.8" fill="none" stroke="#213b68" stroke-width="0.8"/>
<text transform="translate(456.7 244.8) rotate(-45)" font-size="9" text-anchor="end" textLength="26.5" lengthAdjust="spacingAndGlyphs" fill="#2e2e2e" stroke="#2e2e2e" stroke-width="0.18">Control</text>
<text transform="translate(477.5 244.8) rotate(-45)" font-size="9" text-anchor="end" textLength="15.8" lengthAdjust="spacingAndGlyphs" fill="#2e2e2e" stroke="#2e2e2e" stroke-width="0.18">RPM</text>
<text transform="translate(400.6 202.85) rotate(-90)" font-size="10.15" text-anchor="middle" textLength="61.9" lengthAdjust="spacingAndGlyphs" fill="#505050" stroke="#505050" stroke-width="0.3">Percentage of live</text>
<text transform="translate(412.5 202.85) rotate(-90)" font-size="10.15" text-anchor="middle" textLength="68.1" lengthAdjust="spacingAndGlyphs" fill="#505050" stroke="#505050" stroke-width="0.3">cells (PI Annexin V)</text>
<line x1="52.9" y1="304.6" x2="52.9" y2="363.3" stroke="#111" stroke-width="1.6"/>
<line x1="49.9" y1="362.7" x2="52.9" y2="362.7" stroke="#111" stroke-width="1.3"/>
<text x="45.3" y="365.64" font-size="8.4" text-anchor="end" fill="#444" stroke="#444" stroke-width="0.12">0</text>
<line x1="49.9" y1="348.8" x2="52.9" y2="348.8" stroke="#111" stroke-width="1.3"/>
<text x="45.3" y="351.74" font-size="8.4" text-anchor="end" fill="#444" stroke="#444" stroke-width="0.12">2</text>
<line x1="49.9" y1="335" x2="52.9" y2="335" stroke="#111" stroke-width="1.3"/>
<text x="45.3" y="337.94" font-size="8.4" text-anchor="end" fill="#444" stroke="#444" stroke-width="0.12">4</text>
<line x1="49.9" y1="321" x2="52.9" y2="321" stroke="#111" stroke-width="1.3"/>
<text x="45.3" y="323.94" font-size="8.4" text-anchor="end" fill="#444" stroke="#444" stroke-width="0.12">6</text>
<line x1="49.9" y1="306.9" x2="52.9" y2="306.9" stroke="#111" stroke-width="1.3"/>
<text x="45.3" y="309.84" font-size="8.4" text-anchor="end" fill="#444" stroke="#444" stroke-width="0.12">8</text>
<line x1="50.3" y1="362.5" x2="97.5" y2="362.5" stroke="#111" stroke-width="1.6"/>
<line x1="52.5" y1="362.5" x2="52.5" y2="365.5" stroke="#111" stroke-width="1.3"/>
<line x1="73.6" y1="362.5" x2="73.6" y2="365.5" stroke="#111" stroke-width="1.3"/>
<line x1="94.9" y1="362.5" x2="94.9" y2="365.5" stroke="#111" stroke-width="1.3"/>
<line x1="63" y1="317.7" x2="63" y2="313.3" stroke="#111" stroke-width="1.3"/>
<line x1="60.42" y1="313.9" x2="65.58" y2="313.9" stroke="#111" stroke-width="1.3"/>
<rect x="58.7" y="317.7" width="8.6" height="44.3" fill="#ab0029"/>
<rect x="59.1" y="318.1" width="7.8" height="43.9" fill="none" stroke="#86001f" stroke-width="0.8"/>
<line x1="84.15" y1="322.5" x2="84.15" y2="321" stroke="#111" stroke-width="1.3"/>
<line x1="81.54" y1="321.6" x2="86.76" y2="321.6" stroke="#111" stroke-width="1.3"/>
<rect x="79.8" y="322.5" width="8.7" height="39.5" fill="#2d4d87"/>
<rect x="80.2" y="322.9" width="7.9" height="39.1" fill="none" stroke="#213b68" stroke-width="0.8"/>
<text transform="translate(68.8 374.9) rotate(-45)" font-size="9" text-anchor="end" textLength="25.9" lengthAdjust="spacingAndGlyphs" fill="#2e2e2e" stroke="#2e2e2e" stroke-width="0.18">Control</text>
<text transform="translate(89.9 374.9) rotate(-45)" font-size="9" text-anchor="end" textLength="16" lengthAdjust="spacingAndGlyphs" fill="#2e2e2e" stroke="#2e2e2e" stroke-width="0.18">RPM</text>
<text transform="translate(35.3 332.9) rotate(-90)" font-size="10.15" text-anchor="middle" textLength="76.6" lengthAdjust="spacingAndGlyphs" fill="#505050" stroke="#505050" stroke-width="0.3">No. of live cells (X10<tspan font-size="6" dy="-3.3">5</tspan><tspan dy="3.3">)</tspan></text>
<line x1="331.5" y1="293.4" x2="331.5" y2="363.5" stroke="#111" stroke-width="1.6"/>
<line x1="328.5" y1="362.5" x2="331.5" y2="362.5" stroke="#111" stroke-width="1.3"/>
<text x="325.9" y="365.44" font-size="8.4" text-anchor="end" fill="#444" stroke="#444" stroke-width="0.12">0</text>
<line x1="328.5" y1="345.7" x2="331.5" y2="345.7" stroke="#111" stroke-width="1.3"/>
<text x="325.9" y="348.64" font-size="8.4" text-anchor="end" fill="#444" stroke="#444" stroke-width="0.12">200</text>
<line x1="328.5" y1="329.2" x2="331.5" y2="329.2" stroke="#111" stroke-width="1.3"/>
<text x="325.9" y="332.14" font-size="8.4" text-anchor="end" fill="#444" stroke="#444" stroke-width="0.12">400</text>
<line x1="328.5" y1="312.8" x2="331.5" y2="312.8" stroke="#111" stroke-width="1.3"/>
<text x="325.9" y="315.74" font-size="8.4" text-anchor="end" fill="#444" stroke="#444" stroke-width="0.12">600</text>
<line x1="328.5" y1="296.2" x2="331.5" y2="296.2" stroke="#111" stroke-width="1.3"/>
<text x="325.9" y="299.14" font-size="8.4" text-anchor="end" fill="#444" stroke="#444" stroke-width="0.12">800</text>
<line x1="330.4" y1="362.7" x2="381.9" y2="362.7" stroke="#111" stroke-width="1.6"/>
<line x1="331.9" y1="362.7" x2="331.9" y2="365.7" stroke="#111" stroke-width="1.3"/>
<line x1="356" y1="362.7" x2="356" y2="365.7" stroke="#111" stroke-width="1.3"/>
<line x1="379.4" y1="362.7" x2="379.4" y2="365.7" stroke="#111" stroke-width="1.3"/>
<line x1="343.85" y1="303.1" x2="343.85" y2="297.4" stroke="#111" stroke-width="1.3"/>
<line x1="341.36" y1="298" x2="346.34" y2="298" stroke="#111" stroke-width="1.3"/>
<rect x="339.7" y="303.1" width="8.3" height="59.1" fill="#ab0029"/>
<rect x="340.1" y="303.5" width="7.5" height="58.7" fill="none" stroke="#86001f" stroke-width="0.8"/>
<line x1="367.4" y1="326.7" x2="367.4" y2="322.9" stroke="#111" stroke-width="1.3"/>
<line x1="364.82" y1="323.5" x2="369.98" y2="323.5" stroke="#111" stroke-width="1.3"/>
<rect x="363.1" y="326.7" width="8.6" height="35.5" fill="#2d4d87"/>
<rect x="363.5" y="327.1" width="7.8" height="35.1" fill="none" stroke="#213b68" stroke-width="0.8"/>
<text x="367.4" y="322.88" font-size="7.6" font-weight="bold" text-anchor="middle" fill="#111">**</text>
<text transform="translate(347.4 375.7) rotate(-45)" font-size="9" text-anchor="end" textLength="10.5" lengthAdjust="spacingAndGlyphs" fill="#2e2e2e" stroke="#2e2e2e" stroke-width="0.18">WT</text>
<text transform="translate(373.4 374.4) rotate(-45)" font-size="9" text-anchor="end" textLength="37.4" lengthAdjust="spacingAndGlyphs" fill="#2e2e2e" stroke="#2e2e2e" stroke-width="0.18">ER-mTOR</text>
<text transform="translate(305.9 327.85) rotate(-90)" font-size="10.15" text-anchor="middle" textLength="61.9" lengthAdjust="spacingAndGlyphs" fill="#505050" stroke="#505050" stroke-width="0.3">Number of clones</text>
<line x1="440.2" y1="294.2" x2="440.2" y2="364.1" stroke="#111" stroke-width="1.6"/>
<line x1="437.2" y1="362.6" x2="440.2" y2="362.6" stroke="#111" stroke-width="1.3"/>
<text x="433.6" y="365.19" font-size="7.4" text-anchor="end" fill="#444" stroke="#444" stroke-width="0.12">0</text>
<line x1="437.2" y1="354.32" x2="440.2" y2="354.32" stroke="#111" stroke-width="1.3"/>
<text x="433.6" y="356.91" font-size="7.4" text-anchor="end" fill="#444" stroke="#444" stroke-width="0.12">1</text>
<line x1="437.2" y1="346.04" x2="440.2" y2="346.04" stroke="#111" stroke-width="1.3"/>
<text x="433.6" y="348.63" font-size="7.4" text-anchor="end" fill="#444" stroke="#444" stroke-width="0.12">2</text>
<line x1="437.2" y1="337.76" x2="440.2" y2="337.76" stroke="#111" stroke-width="1.3"/>
<text x="433.6" y="340.35" font-size="7.4" text-anchor="end" fill="#444" stroke="#444" stroke-width="0.12">3</text>
<line x1="437.2" y1="329.48" x2="440.2" y2="329.48" stroke="#111" stroke-width="1.3"/>
<text x="433.6" y="332.07" font-size="7.4" text-anchor="end" fill="#444" stroke="#444" stroke-width="0.12">4</text>
<line x1="437.2" y1="321.2" x2="440.2" y2="321.2" stroke="#111" stroke-width="1.3"/>
<text x="433.6" y="323.79" font-size="7.4" text-anchor="end" fill="#444" stroke="#444" stroke-width="0.12">5</text>
<line x1="437.2" y1="312.92" x2="440.2" y2="312.92" stroke="#111" stroke-width="1.3"/>
<text x="433.6" y="315.51" font-size="7.4" text-anchor="end" fill="#444" stroke="#444" stroke-width="0.12">6</text>
<line x1="437.2" y1="304.64" x2="440.2" y2="304.64" stroke="#111" stroke-width="1.3"/>
<text x="433.6" y="307.23" font-size="7.4" text-anchor="end" fill="#444" stroke="#444" stroke-width="0.12">7</text>
<line x1="437.2" y1="296.36" x2="440.2" y2="296.36" stroke="#111" stroke-width="1.3"/>
<text x="433.6" y="298.95" font-size="7.4" text-anchor="end" fill="#444" stroke="#444" stroke-width="0.12">8</text>
<line x1="438.3" y1="363.3" x2="490.2" y2="363.3" stroke="#111" stroke-width="1.6"/>
<line x1="440.2" y1="363.3" x2="440.2" y2="366.3" stroke="#111" stroke-width="1.3"/>
<line x1="464.6" y1="363.3" x2="464.6" y2="366.3" stroke="#111" stroke-width="1.3"/>
<line x1="489.2" y1="363.3" x2="489.2" y2="366.3" stroke="#111" stroke-width="1.3"/>
<line x1="452.1" y1="309.8" x2="452.1" y2="304.6" stroke="#111" stroke-width="1.3"/>
<line x1="449.64" y1="305.2" x2="454.56" y2="305.2" stroke="#111" stroke-width="1.3"/>
<rect x="448" y="309.8" width="8.2" height="53" fill="#ab0029"/>
<rect x="448.4" y="310.2" width="7.4" height="52.6" fill="none" stroke="#86001f" stroke-width="0.8"/>
<line x1="477.05" y1="333.1" x2="477.05" y2="329.6" stroke="#111" stroke-width="1.3"/>
<line x1="474.56" y1="330.2" x2="479.54" y2="330.2" stroke="#111" stroke-width="1.3"/>
<rect x="472.9" y="333.1" width="8.3" height="29.7" fill="#2d4d87"/>
<rect x="473.3" y="333.5" width="7.5" height="29.3" fill="none" stroke="#213b68" stroke-width="0.8"/>
<text x="476.7" y="329.68" font-size="7.6" font-weight="bold" text-anchor="middle" fill="#111">**</text>
<text transform="translate(456.9 375.3) rotate(-45)" font-size="9" text-anchor="end" textLength="10.5" lengthAdjust="spacingAndGlyphs" fill="#2e2e2e" stroke="#2e2e2e" stroke-width="0.18">WT</text>
<text transform="translate(483.2 374.4) rotate(-45)" font-size="9" text-anchor="end" textLength="37.4" lengthAdjust="spacingAndGlyphs" fill="#2e2e2e" stroke="#2e2e2e" stroke-width="0.18">ER-mTOR</text>
<text transform="translate(410.6 328.1) rotate(-90)" font-size="10.15" text-anchor="middle" textLength="69.2" lengthAdjust="spacingAndGlyphs" fill="#505050" stroke="#505050" stroke-width="0.3">Cell numbers of per</text>
<text transform="translate(422.9 327.35) rotate(-90)" font-size="10.15" text-anchor="middle" textLength="43.7" lengthAdjust="spacingAndGlyphs" fill="#505050" stroke="#505050" stroke-width="0.3">clone (X10<tspan font-size="6" dy="-3.3">3</tspan><tspan dy="3.3">)</tspan></text>
<rect x="206.8" y="428.4" width="6.2" height="5.6" fill="#ab0029"/>
<rect x="207.2" y="428.8" width="5.4" height="4.8" fill="none" stroke="#86001f" stroke-width="0.8"/>
<rect x="206.8" y="440.8" width="6.2" height="5.5" fill="#2d4d87"/>
<rect x="207.2" y="441.2" width="5.4" height="4.7" fill="none" stroke="#213b68" stroke-width="0.8"/>
<text x="216.2" y="433.9" font-size="7.6" textLength="12" lengthAdjust="spacingAndGlyphs" fill="#2e2e2e" stroke="#2e2e2e" stroke-width="0.3">WT</text>
<text x="216.2" y="446.2" font-size="7.6" textLength="48.6" lengthAdjust="spacingAndGlyphs" fill="#2e2e2e" stroke="#2e2e2e" stroke-width="0.3">ER-mTOR KO</text>
<line x1="206.4" y1="449" x2="206.4" y2="529.6" stroke="#111" stroke-width="1.6"/>
<line x1="203.4" y1="528.8" x2="206.4" y2="528.8" stroke="#111" stroke-width="1.3"/>
<text x="201.3" y="531.6" font-size="8" text-anchor="end" fill="#444" stroke="#444" stroke-width="0.12">0</text>
<line x1="203.4" y1="513.6" x2="206.4" y2="513.6" stroke="#111" stroke-width="1.3"/>
<text x="201.3" y="516.4" font-size="8" text-anchor="end" fill="#444" stroke="#444" stroke-width="0.12">20</text>
<line x1="203.4" y1="498.1" x2="206.4" y2="498.1" stroke="#111" stroke-width="1.3"/>
<text x="201.3" y="500.9" font-size="8" text-anchor="end" fill="#444" stroke="#444" stroke-width="0.12">40</text>
<line x1="203.4" y1="482.7" x2="206.4" y2="482.7" stroke="#111" stroke-width="1.3"/>
<text x="201.3" y="485.5" font-size="8" text-anchor="end" fill="#444" stroke="#444" stroke-width="0.12">60</text>
<line x1="203.4" y1="467.1" x2="206.4" y2="467.1" stroke="#111" stroke-width="1.3"/>
<text x="201.3" y="469.9" font-size="8" text-anchor="end" fill="#444" stroke="#444" stroke-width="0.12">80</text>
<line x1="203.4" y1="451.6" x2="206.4" y2="451.6" stroke="#111" stroke-width="1.3"/>
<text x="201.3" y="454.4" font-size="8" text-anchor="end" fill="#444" stroke="#444" stroke-width="0.12">100</text>
<line x1="205" y1="528.7" x2="268.8" y2="528.7" stroke="#111" stroke-width="1.6"/>
<line x1="207" y1="528.7" x2="207" y2="531.7" stroke="#111" stroke-width="1.3"/>
<line x1="236.5" y1="528.7" x2="236.5" y2="531.7" stroke="#111" stroke-width="1.3"/>
<line x1="262.5" y1="528.7" x2="262.5" y2="531.7" stroke="#111" stroke-width="1.3"/>
<line x1="217.8" y1="468.5" x2="217.8" y2="466.4" stroke="#111" stroke-width="1.3"/>
<line x1="215.46" y1="467" x2="220.14" y2="467" stroke="#111" stroke-width="1.3"/>
<rect x="213.9" y="468.5" width="7.8" height="59.7" fill="#ab0029"/>
<rect x="214.3" y="468.9" width="7" height="59.3" fill="none" stroke="#86001f" stroke-width="0.8"/>
<line x1="225.95" y1="496.7" x2="225.95" y2="494.5" stroke="#111" stroke-width="1.3"/>
<line x1="223.4" y1="495.1" x2="228.5" y2="495.1" stroke="#111" stroke-width="1.3"/>
<rect x="221.7" y="496.7" width="8.5" height="31.5" fill="#2d4d87"/>
<rect x="222.1" y="497.1" width="7.7" height="31.1" fill="none" stroke="#213b68" stroke-width="0.8"/>
<line x1="247.1" y1="472.8" x2="247.1" y2="470.7" stroke="#111" stroke-width="1.3"/>
<line x1="244.58" y1="471.3" x2="249.62" y2="471.3" stroke="#111" stroke-width="1.3"/>
<rect x="242.9" y="472.8" width="8.4" height="55.4" fill="#ab0029"/>
<rect x="243.3" y="473.2" width="7.6" height="55" fill="none" stroke="#86001f" stroke-width="0.8"/>
<line x1="255.35" y1="517.2" x2="255.35" y2="516.6" stroke="#111" stroke-width="1.3"/>
<line x1="252.92" y1="517.2" x2="257.78" y2="517.2" stroke="#111" stroke-width="1.3"/>
<rect x="251.3" y="517.2" width="8.1" height="11" fill="#2d4d87"/>
<rect x="251.7" y="517.6" width="7.3" height="10.6" fill="none" stroke="#213b68" stroke-width="0.8"/>
<text x="230.5" y="491.48" font-size="7.6" font-weight="bold" text-anchor="middle" fill="#111">***</text>
<text x="259.2" y="516.98" font-size="7.6" font-weight="bold" text-anchor="middle" fill="#111">***</text>
<text transform="translate(224.2 539.9) rotate(-45)" font-size="9" text-anchor="end" textLength="24.2" lengthAdjust="spacingAndGlyphs" fill="#2e2e2e" stroke="#2e2e2e" stroke-width="0.18">M-CSF</text>
<text transform="translate(254.9 541.5) rotate(-45)" font-size="9" text-anchor="end" textLength="30.8" lengthAdjust="spacingAndGlyphs" fill="#2e2e2e" stroke="#2e2e2e" stroke-width="0.18">IL-3+IL-6</text>
<text transform="translate(181.2 488.65) rotate(-90)" font-size="10.15" text-anchor="middle" textLength="89.7" lengthAdjust="spacingAndGlyphs" fill="#505050" stroke="#505050" stroke-width="0.3">% of FCD11b<tspan font-size="6.5" dy="-3.3">+</tspan><tspan dy="3.3">4/80</tspan><tspan font-size="6.5" dy="-3.3">+</tspan><tspan dy="3.3"> cells</tspan></text>
<rect x="329" y="428.4" width="6.2" height="5.6" fill="#ab0029"/>
<rect x="329.4" y="428.8" width="5.4" height="4.8" fill="none" stroke="#86001f" stroke-width="0.8"/>
<rect x="329" y="440.8" width="6.2" height="5.5" fill="#2d4d87"/>
<rect x="329.4" y="441.2" width="5.4" height="4.7" fill="none" stroke="#213b68" stroke-width="0.8"/>
<text x="338.4" y="433.9" font-size="7.6" textLength="12" lengthAdjust="spacingAndGlyphs" fill="#2e2e2e" stroke="#2e2e2e" stroke-width="0.3">WT</text>
<text x="338.4" y="446.2" font-size="7.6" textLength="48" lengthAdjust="spacingAndGlyphs" fill="#2e2e2e" stroke="#2e2e2e" stroke-width="0.3">ER-mTOR KO</text>
<line x1="330.7" y1="457" x2="330.7" y2="529.2" stroke="#111" stroke-width="1.6"/>
<line x1="327.7" y1="528.4" x2="330.7" y2="528.4" stroke="#111" stroke-width="1.3"/>
<text x="325.6" y="531.34" font-size="8.4" text-anchor="end" fill="#444" stroke="#444" stroke-width="0.12">0</text>
<line x1="327.7" y1="517.2" x2="330.7" y2="517.2" stroke="#111" stroke-width="1.3"/>
<text x="325.6" y="520.14" font-size="8.4" text-anchor="end" fill="#444" stroke="#444" stroke-width="0.12">2</text>
<line x1="327.7" y1="505.5" x2="330.7" y2="505.5" stroke="#111" stroke-width="1.3"/>
<text x="325.6" y="508.44" font-size="8.4" text-anchor="end" fill="#444" stroke="#444" stroke-width="0.12">4</text>
<line x1="327.7" y1="494.5" x2="330.7" y2="494.5" stroke="#111" stroke-width="1.3"/>
<text x="325.6" y="497.44" font-size="8.4" text-anchor="end" fill="#444" stroke="#444" stroke-width="0.12">6</text>
<line x1="327.7" y1="483.3" x2="330.7" y2="483.3" stroke="#111" stroke-width="1.3"/>
<text x="325.6" y="486.24" font-size="8.4" text-anchor="end" fill="#444" stroke="#444" stroke-width="0.12">8</text>
<line x1="327.7" y1="471.7" x2="330.7" y2="471.7" stroke="#111" stroke-width="1.3"/>
<text x="325.6" y="474.64" font-size="8.4" text-anchor="end" fill="#444" stroke="#444" stroke-width="0.12">10</text>
<line x1="327.7" y1="460.1" x2="330.7" y2="460.1" stroke="#111" stroke-width="1.3"/>
<text x="325.6" y="463.04" font-size="8.4" text-anchor="end" fill="#444" stroke="#444" stroke-width="0.12">12</text>
<line x1="330" y1="528.4" x2="393.1" y2="528.4" stroke="#111" stroke-width="1.6"/>
<line x1="332" y1="528.4" x2="332" y2="531.4" stroke="#111" stroke-width="1.3"/>
<line x1="361.2" y1="528.4" x2="361.2" y2="531.4" stroke="#111" stroke-width="1.3"/>
<line x1="390" y1="528.4" x2="390" y2="531.4" stroke="#111" stroke-width="1.3"/>
<line x1="343.35" y1="465" x2="343.35" y2="464.4" stroke="#111" stroke-width="1.3"/>
<line x1="340.86" y1="465" x2="345.84" y2="465" stroke="#111" stroke-width="1.3"/>
<rect x="339.2" y="465" width="8.3" height="62.8" fill="#ab0029"/>
<rect x="339.6" y="465.4" width="7.5" height="62.4" fill="none" stroke="#86001f" stroke-width="0.8"/>
<line x1="351.3" y1="501.3" x2="351.3" y2="500.6" stroke="#111" stroke-width="1.3"/>
<line x1="349.02" y1="501.2" x2="353.58" y2="501.2" stroke="#111" stroke-width="1.3"/>
<rect x="347.5" y="501.3" width="7.6" height="26.5" fill="#2d4d87"/>
<rect x="347.9" y="501.7" width="6.8" height="26.1" fill="none" stroke="#213b68" stroke-width="0.8"/>
<line x1="374.15" y1="492.4" x2="374.15" y2="491.9" stroke="#111" stroke-width="1.3"/>
<line x1="371.66" y1="492.5" x2="376.64" y2="492.5" stroke="#111" stroke-width="1.3"/>
<rect x="370" y="492.4" width="8.3" height="35.4" fill="#ab0029"/>
<rect x="370.4" y="492.8" width="7.5" height="35" fill="none" stroke="#86001f" stroke-width="0.8"/>
<line x1="382.15" y1="519.3" x2="382.15" y2="518.8" stroke="#111" stroke-width="1.3"/>
<line x1="379.84" y1="519.4" x2="384.46" y2="519.4" stroke="#111" stroke-width="1.3"/>
<rect x="378.3" y="519.3" width="7.7" height="8.5" fill="#2d4d87"/>
<rect x="378.7" y="519.7" width="6.9" height="8.1" fill="none" stroke="#213b68" stroke-width="0.8"/>
<text x="354.6" y="496.28" font-size="7.6" font-weight="bold" text-anchor="middle" fill="#111">***</text>
<text x="386.5" y="516.78" font-size="7.6" font-weight="bold" text-anchor="middle" fill="#111">***</text>
<text transform="translate(349.2 539.9) rotate(-45)" font-size="9" text-anchor="end" textLength="24.2" lengthAdjust="spacingAndGlyphs" fill="#2e2e2e" stroke="#2e2e2e" stroke-width="0.18">M-CSF</text>
<text transform="translate(381 540.7) rotate(-45)" font-size="9" text-anchor="end" textLength="31.4" lengthAdjust="spacingAndGlyphs" fill="#2e2e2e" stroke="#2e2e2e" stroke-width="0.18">IL-3+IL-6</text>
<text transform="translate(298.3 492.4) rotate(-90)" font-size="10.15" text-anchor="middle" textLength="93.2" lengthAdjust="spacingAndGlyphs" fill="#505050" stroke="#505050" stroke-width="0.3">No of CD11b<tspan font-size="6.5" dy="-3.3">+</tspan><tspan dy="3.3">F4/80</tspan><tspan font-size="6.5" dy="-3.3">+</tspan><tspan dy="3.3"> cells</tspan></text>
<text transform="translate(310 492) rotate(-90)" font-size="10.15" text-anchor="middle" textLength="23.6" lengthAdjust="spacingAndGlyphs" fill="#505050" stroke="#505050" stroke-width="0.3">(X10<tspan font-size="6" dy="-3.3">4</tspan><tspan dy="3.3">)</tspan></text>
<text x="251.6" y="167" font-size="9.9" textLength="111.9" lengthAdjust="spacingAndGlyphs" fill="#3a3a3a" stroke="#3a3a3a" stroke-width="0.1">GMPs in RMP-SCID mice</text>
<text x="264.6" y="178.7" font-size="8.9" textLength="29.6" lengthAdjust="spacingAndGlyphs" fill="#3a3a3a" stroke="#3a3a3a" stroke-width="0.1">Control</text>
<text x="326.7" y="179.6" font-size="8.9" textLength="18.3" lengthAdjust="spacingAndGlyphs" fill="#3a3a3a" stroke="#3a3a3a" stroke-width="0.1">RPM</text>
<g clip-path="url(#cG1)"><g filter="url(#speck)">
<rect x="254.8" y="184.7" width="49.3" height="53.6" fill="#000" opacity="0.004"/>
<rect x="255" y="185" width="21" height="27" fill="#000" opacity="0.02"/>
<rect x="277" y="213" width="27" height="25" fill="#000" opacity="0.07"/>
<rect x="277" y="185" width="27" height="27" fill="#000" opacity="0.05"/>
<ellipse cx="293" cy="202" rx="4.5" ry="11" fill="#000" opacity="0.65" filter="url(#b25)"/>
<ellipse cx="289" cy="222" rx="6" ry="9" fill="#000" opacity="0.15" filter="url(#b35)"/>
<ellipse cx="266" cy="224" rx="14" ry="11" fill="#000" opacity="0.5" filter="url(#b35)"/>
</g></g>
<g clip-path="url(#cG1)">
<ellipse cx="264.5" cy="231.5" rx="12" ry="8.5" fill="#000" filter="url(#b18)"/>
<rect x="279" y="192.5" width="17" height="1.5" fill="#222" filter="url(#b06)"/>
</g>
<g clip-path="url(#cG2)"><g filter="url(#speck)">
<rect x="311.5" y="185.6" width="49.9" height="52.4" fill="#000" opacity="0.004"/>
<rect x="311" y="185" width="22" height="27" fill="#000" opacity="0.02"/>
<rect x="334" y="212" width="28" height="27" fill="#000" opacity="0.08"/>
<rect x="334" y="185" width="28" height="27" fill="#000" opacity="0.08"/>
<ellipse cx="351" cy="203" rx="5.5" ry="8.5" fill="#000" opacity="0.6" filter="url(#b25)"/>
<ellipse cx="346" cy="222" rx="6" ry="9" fill="#000" opacity="0.15" filter="url(#b35)"/>
<ellipse cx="320" cy="224" rx="14" ry="11" fill="#000" opacity="0.5" filter="url(#b35)"/>
</g></g>
<g clip-path="url(#cG2)">
<ellipse cx="319" cy="232" rx="11.5" ry="8" fill="#000" filter="url(#b18)"/>
<path d="M336.5 195.3 L360 194.3 L360 197.3 L336.5 196.5 Z" fill="#222" filter="url(#b06)"/>
<ellipse cx="354" cy="196.5" rx="5" ry="2.5" fill="#111" filter="url(#b08)"/>
</g>
<rect x="254.1" y="184" width="50.7" height="55" fill="none" stroke="#111" stroke-width="1.4"/>
<rect x="310.8" y="184.9" width="51.3" height="53.8" fill="none" stroke="#111" stroke-width="1.4"/>
<line x1="276.5" y1="184" x2="276.5" y2="239" stroke="#222" stroke-width="1"/>
<line x1="254" y1="212.6" x2="305" y2="212.6" stroke="#222" stroke-width="1"/>
<line x1="333.6" y1="185" x2="333.6" y2="239" stroke="#222" stroke-width="1"/>
<line x1="311" y1="212.5" x2="362" y2="212.5" stroke="#222" stroke-width="1"/>
<text x="278" y="205.7" font-size="7.2" font-weight="bold" textLength="9.7" lengthAdjust="spacingAndGlyphs" fill="#111">8.2</text>
<text x="288.9" y="227.5" font-size="7.2" font-weight="bold" textLength="10.1" lengthAdjust="spacingAndGlyphs" fill="#111">2.6</text>
<text x="334.6" y="205.6" font-size="7.2" font-weight="bold" textLength="13.7" lengthAdjust="spacingAndGlyphs" fill="#111">11.3</text>
<text x="344.7" y="227" font-size="7.2" font-weight="bold" textLength="10.1" lengthAdjust="spacingAndGlyphs" fill="#111">3.9</text>
<text transform="translate(245.7 235) rotate(-90)" font-size="9.72" text-anchor="middle" textLength="6.5" lengthAdjust="spacingAndGlyphs" fill="#505050" stroke="#505050" stroke-width="0.3">PI</text>
<line x1="243.7" y1="229.6" x2="243.7" y2="206.8" stroke="#111" stroke-width="1.3"/>
<path d="M243.7 200.3 L240.5 207.8 L243.7 206.5 L246.9 207.8 Z" fill="#111"/>
<text x="254.5" y="250.4" font-size="10.2" textLength="34.7" lengthAdjust="spacingAndGlyphs" fill="#2e2e2e" stroke="#2e2e2e" stroke-width="0.3">Annexin V</text>
<line x1="293.5" y1="247.2" x2="333.9" y2="247.2" stroke="#111" stroke-width="1.3"/>
<path d="M340.4 247.2 L332.9 244 L334.2 247.2 L332.9 250.4 Z" fill="#111"/>
<text x="128.9" y="311" font-size="9.4" textLength="130.3" lengthAdjust="spacingAndGlyphs" fill="#333" stroke="#333" stroke-width="0.15">GMP clone formation-in vitro</text>
<text x="158.5" y="325.1" font-size="9" textLength="13" lengthAdjust="spacingAndGlyphs" fill="#2a2a2a" stroke="#2a2a2a" stroke-width="0.2">WT</text>
<text x="213.5" y="325.1" font-size="9" textLength="18.4" lengthAdjust="spacingAndGlyphs" fill="#2a2a2a" stroke="#2a2a2a" stroke-width="0.2">RPM</text>
<rect x="137.7" y="327.7" width="55.4" height="57.7" fill="#a7a3ad"/>
<rect x="194.7" y="327.7" width="55.4" height="57.7" fill="#9f9cb6"/>
<g clip-path="url(#cJ1)"><g filter="url(#speckJ)">
<rect x="138.5" y="328.5" width="53.8" height="56.2" fill="#000" opacity="0.004"/>
<circle cx="164.8" cy="353" r="11" fill="#000" opacity="0.45" filter="url(#b35)"/>
</g>
<circle cx="165" cy="353" r="7" fill="#857e8a" opacity="0.7" filter="url(#b25)"/>
<circle cx="165.5" cy="353.5" r="3.5" fill="#7a7280" opacity="0.6" filter="url(#b18)"/>
</g>
<g clip-path="url(#cJ2)">
<circle cx="223.6" cy="356.6" r="5" fill="#6e6a84" opacity="0.9" filter="url(#b18)"/>
<circle cx="223.2" cy="356.3" r="2.8" fill="#646078" opacity="0.7" filter="url(#b12)"/>
</g>
<rect x="138.4" y="328.4" width="54" height="56.3" fill="none" stroke="#1e1e1e" stroke-width="1.4"/>
<rect x="195.4" y="328.4" width="54" height="56.3" fill="none" stroke="#1e1e1e" stroke-width="1.4"/>
<text x="164.8" y="381.5" font-size="7.8" fill="#111" stroke="#111" stroke-width="0.25" textLength="23.1" lengthAdjust="spacingAndGlyphs">100 µm</text>
<text x="221.3" y="381.5" font-size="7.8" fill="#111" stroke="#111" stroke-width="0.25" textLength="23" lengthAdjust="spacingAndGlyphs">100 µm</text>
<text x="28.9" y="437.7" font-size="8.9" textLength="26.3" lengthAdjust="spacingAndGlyphs" fill="#2e2e2e" stroke="#2e2e2e" stroke-width="0.3">M-CSF</text>
<text x="72" y="437.7" font-size="8.9" textLength="34.9" lengthAdjust="spacingAndGlyphs" fill="#2e2e2e" stroke="#2e2e2e" stroke-width="0.3">IL-3+IL-6</text>
<g clip-path="url(#cM1)"><g filter="url(#speckA)">
<rect x="21.9" y="445.1" width="40.0" height="40.8" fill="#000" opacity="0.004"/>
<ellipse cx="26.5" cy="475" rx="4.5" ry="14" fill="#000" opacity="0.38" filter="url(#b25)"/>
<ellipse cx="31" cy="466" rx="6" ry="5" fill="#000" opacity="0.2" filter="url(#b25)"/>
<ellipse cx="39" cy="456.5" rx="12" ry="5" transform="rotate(-27 39 456.5)" fill="#000" opacity="0.5" filter="url(#b18)"/>
</g></g>
<g clip-path="url(#cM1)">
<ellipse cx="38.5" cy="457" rx="9" ry="3.4" transform="rotate(-27 38.5 457)" fill="#111" opacity="0.9" filter="url(#b12)"/>
</g>
<g clip-path="url(#cM2)"><g filter="url(#speckA)">
<rect x="21.9" y="492.1" width="40.0" height="40.3" fill="#000" opacity="0.004"/>
<path d="M25 536 C25 524 27 516 31 511 C35 506 42 502 48 499" fill="none" stroke="#000" stroke-width="11" stroke-linecap="round" opacity="0.6" filter="url(#b25)"/>
</g></g>
<g clip-path="url(#cM2)">
<path d="M25 536 C25 524 27 516 31 511 C35 506 42 502 47.5 499.5" fill="none" stroke="#151515" stroke-width="5" stroke-linecap="round" opacity="0.9" filter="url(#b12)"/>
<ellipse cx="26" cy="525" rx="5.5" ry="11" fill="#111" opacity="0.9" filter="url(#b18)"/>
</g>
<g clip-path="url(#cM3)"><g filter="url(#speckA)">
<rect x="68.8" y="444.9" width="41.3" height="41.7" fill="#000" opacity="0.004"/>
<ellipse cx="74" cy="474" rx="6" ry="16" fill="#000" opacity="0.4" filter="url(#b25)"/>
<ellipse cx="86" cy="468" rx="6" ry="5" fill="#000" opacity="0.25" filter="url(#b25)"/>
<ellipse cx="90" cy="456" rx="10.5" ry="7" transform="rotate(-18 90 456)" fill="#000" opacity="0.7" filter="url(#b18)"/>
</g></g>
<g clip-path="url(#cM3)">
<ellipse cx="90.4" cy="455.8" rx="7.8" ry="4.6" transform="rotate(-18 90.4 455.8)" fill="#000" opacity="0.85" filter="url(#b12)"/>
</g>
<g clip-path="url(#cM4)"><g filter="url(#speckA)">
<rect x="68.8" y="492.2" width="40.9" height="40.3" fill="#000" opacity="0.004"/>
<ellipse cx="75.5" cy="515" rx="9" ry="20" fill="#000" opacity="0.55" filter="url(#b35)"/>
<ellipse cx="87" cy="505" rx="9" ry="6" fill="#000" opacity="0.3" filter="url(#b25)"/>
<ellipse cx="84" cy="522" rx="6" ry="8" fill="#000" opacity="0.25" filter="url(#b25)"/>
</g></g>
<g clip-path="url(#cM4)">
<ellipse cx="76" cy="509" rx="5" ry="5" fill="#222" opacity="0.55" filter="url(#b18)"/>
<ellipse cx="72.5" cy="528" rx="4.5" ry="4.5" fill="#222" opacity="0.55" filter="url(#b18)"/>
</g>
<rect x="21.2" y="444.4" width="41.4" height="42.2" fill="none" stroke="#111" stroke-width="1.4"/>
<rect x="21.2" y="491.4" width="41.4" height="41.7" fill="none" stroke="#111" stroke-width="1.4"/>
<rect x="68.1" y="444.2" width="42.7" height="43.1" fill="none" stroke="#111" stroke-width="1.4"/>
<rect x="68.1" y="491.5" width="42.3" height="41.7" fill="none" stroke="#111" stroke-width="1.4"/>
<rect x="27.4" y="448.3" width="23" height="14.5" fill="none" stroke="#333" stroke-width="1"/>
<rect x="29.8" y="496.6" width="21.9" height="14.7" fill="none" stroke="#333" stroke-width="1"/>
<rect x="80.5" y="449.7" width="20.5" height="16" fill="none" stroke="#333" stroke-width="1"/>
<rect x="80.8" y="497" width="20.2" height="16" fill="none" stroke="#333" stroke-width="1"/>
<text x="39.7" y="477.2" font-size="8" textLength="15.2" lengthAdjust="spacingAndGlyphs" fill="#2a2a2a" stroke="#2a2a2a" stroke-width="0.08">76.9</text>
<text x="39" y="523" font-size="8" textLength="14.8" lengthAdjust="spacingAndGlyphs" fill="#2a2a2a" stroke="#2a2a2a" stroke-width="0.08">39.3</text>
<text x="86.2" y="478.8" font-size="8" textLength="14.6" lengthAdjust="spacingAndGlyphs" fill="#2a2a2a" stroke="#2a2a2a" stroke-width="0.08">74.7</text>
<text x="87.4" y="525.3" font-size="8" textLength="14.1" lengthAdjust="spacingAndGlyphs" fill="#2a2a2a" stroke="#2a2a2a" stroke-width="0.08">13.9</text>
<text x="115.4" y="469.2" font-size="8.6" textLength="12.3" lengthAdjust="spacingAndGlyphs" fill="#2e2e2e" stroke="#2e2e2e" stroke-width="0.12">WT</text>
<text x="115.1" y="509.6" font-size="8.6" textLength="36.8" lengthAdjust="spacingAndGlyphs" fill="#2e2e2e" stroke="#2e2e2e" stroke-width="0.12">ER-mTOR</text>
<text x="115.1" y="518.9" font-size="8.6" textLength="11.4" lengthAdjust="spacingAndGlyphs" fill="#2e2e2e" stroke="#2e2e2e" stroke-width="0.12">KO</text>
<text transform="translate(16.8 521.5) rotate(-90)" font-size="9.94" text-anchor="middle" textLength="24.6" lengthAdjust="spacingAndGlyphs" fill="#505050" stroke="#505050" stroke-width="0.3">CD11b</text>
<line x1="13.7" y1="505" x2="13.7" y2="464.1" stroke="#111" stroke-width="1.3"/>
<path d="M13.7 457.6 L10.5 465.1 L13.7 463.8 L16.9 465.1 Z" fill="#111"/>
<text x="20.1" y="545.5" font-size="9.2" textLength="20.1" lengthAdjust="spacingAndGlyphs" fill="#2e2e2e" stroke="#2e2e2e" stroke-width="0.3">F4/80</text>
<line x1="43.3" y1="542.3" x2="100.3" y2="542.3" stroke="#111" stroke-width="1.3"/>
<path d="M106.8 542.3 L99.3 539.1 L100.6 542.3 L99.3 545.5 Z" fill="#111"/>
</svg>
</body></html>
